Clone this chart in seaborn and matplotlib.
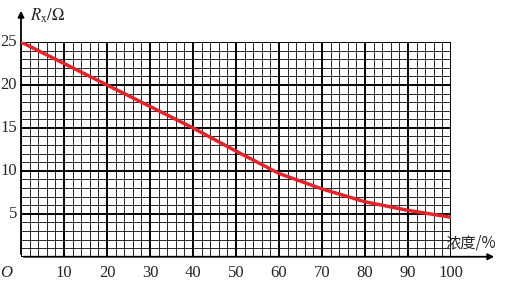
import matplotlib
matplotlib.use("Agg")
import matplotlib.pyplot as plt
import seaborn as sns
import numpy as np
import pandas as pd

conc = [0, 10, 20, 30, 40, 50, 60, 70, 80, 90, 100]
rx = [25, 22.5, 20, 17.5, 15, 12.3, 9.7, 7.9, 6.4, 5.4, 4.6]
x_ticks = [10, 20, 30, 40, 50, 60, 70, 80, 90, 100]
y_ticks = [5, 10, 15, 20, 25]

sns.set_style("white")
plt.rcParams['font.family'] = ['Liberation Serif', 'Noto Sans CJK SC']
plt.rcParams['mathtext.fontset'] = 'stix'

W, H = 505, 286
fig = plt.figure(figsize=(W / 100, H / 100), dpi=100)
x0, y0 = 21, 256.75
x1, y1 = 451, 42.0
ax = fig.add_axes([x0 / W, (H - y0) / H, (x1 - x0) / W, (y0 - y1) / H])
ax.set_xlim(0, 100)
ax.set_ylim(0, 25)

df = pd.DataFrame({"c": conc, "r": rx})

# grid
for v in np.arange(0, 101, 2):
    major = (v % 10 == 0)
    ax.axvline(v, color='black', lw=1.4 if major else 0.7, alpha=1 if major else 0.85, zorder=1)
for v in np.arange(0, 26, 1):
    major = (v % 5 == 0)
    ax.axhline(v, color='black', lw=1.4 if major else 0.7, alpha=1 if major else 0.85, zorder=1)

sns.lineplot(data=df, x="c", y="r", ax=ax, color='#e4232b', lw=2.5, zorder=5)

for s in ax.spines.values():
    s.set_visible(False)
ax.set_xticks([])
ax.set_yticks([])
ax.set_xlabel("")
ax.set_ylabel("")

# axes arrows
ax.annotate("", xy=(497, H - y0), xytext=(x0, H - y0), xycoords='figure pixels',
            textcoords='figure pixels',
            arrowprops=dict(arrowstyle='-|>', color='black', lw=1.3, mutation_scale=9))
ax.annotate("", xy=(x0, H - 8), xytext=(x0, H - y0), xycoords='figure pixels',
            textcoords='figure pixels',
            arrowprops=dict(arrowstyle='-|>', color='black', lw=1.3, mutation_scale=9))

fs = 12
for t in x_ticks:
    ax.text(t, -1.0, str(t), ha='center', va='top', fontsize=fs)
for t in y_ticks:
    ax.text(-0.9, t, str(t), ha='right', va='center', fontsize=fs)
ax.text(-3.5, -1.0, "O", ha='center', va='top', fontsize=fs, style='italic')

fig.text(30 / W, (H - 16) / H, r"$R_{\mathrm{x}}/\Omega$", ha='left', va='center', fontsize=12)
fig.text(471 / W, (H - 243) / H, "浓度/%", ha='center', va='center', fontsize=11,
         family=['Noto Sans CJK SC', 'DejaVu Sans'])

fig.savefig("out.png", dpi=100, facecolor='white')
